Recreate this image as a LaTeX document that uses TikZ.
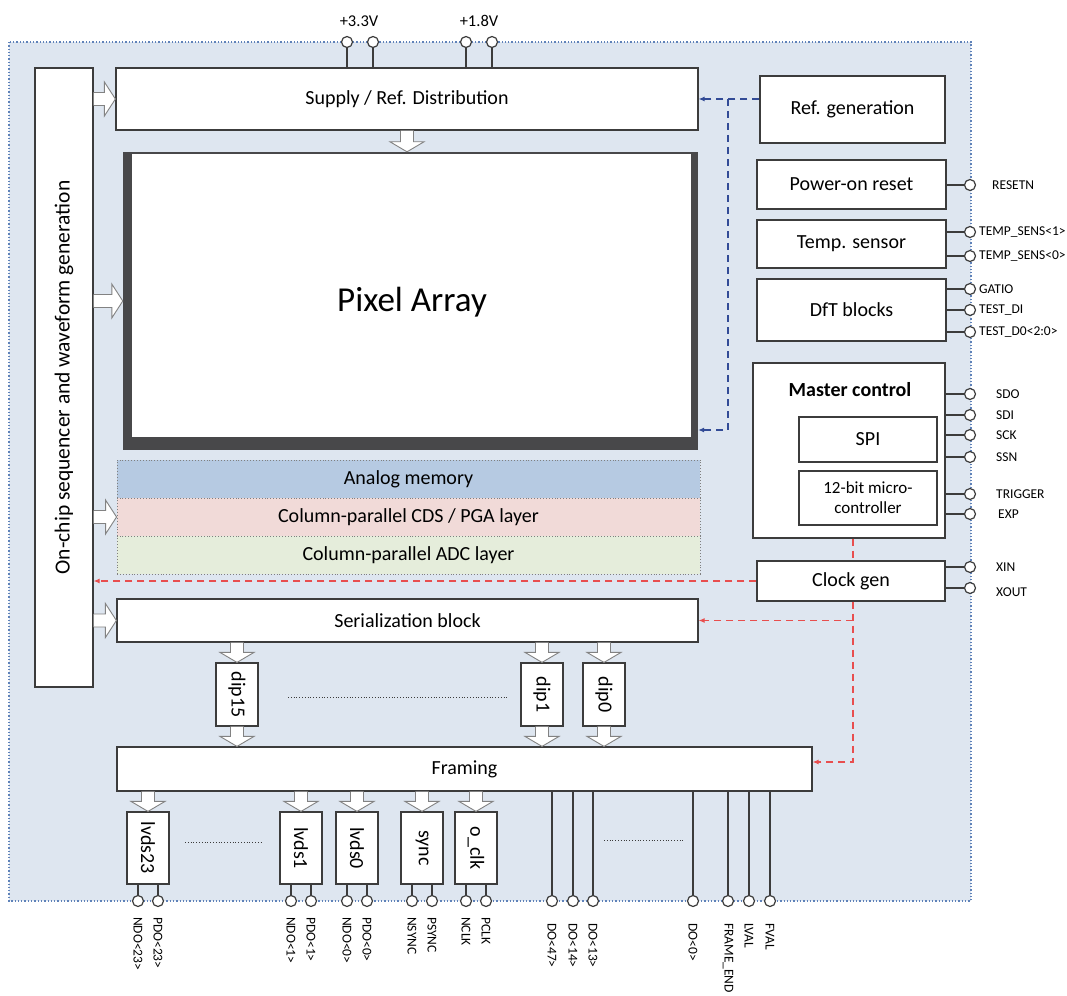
\documentclass[tikz,border=0pt]{standalone}
\usepackage{fontspec}
\setmainfont{Carlito}
\usetikzlibrary{arrows.meta,calc}
\definecolor{chipbg}{RGB}{222,230,240}
\definecolor{chipedge}{RGB}{95,130,185}
\definecolor{boxline}{RGB}{60,60,60}
\definecolor{framedark}{RGB}{72,72,74}
\definecolor{memblue}{RGB}{182,202,226}
\definecolor{cdspink}{RGB}{241,218,216}
\definecolor{adcgreen}{RGB}{229,237,219}
\definecolor{clkred}{RGB}{232,78,78}
\definecolor{refblue}{RGB}{50,75,150}
\definecolor{arrowgray}{RGB}{130,130,130}

% hollow block arrow to the right, from #1 to #2
\newcommand{\rblock}[2]{\filldraw[blockarrow] let \p1=#1, \p2=#2 in
  (\x1,\y1+6.5pt) -- (\x2-11pt,\y1+6.5pt) -- (\x2-11pt,\y1+17pt) -- (\x2,\y1)
  -- (\x2-11pt,\y1-17pt) -- (\x2-11pt,\y1-6.5pt) -- (\x1,\y1-6.5pt);}
% hollow block arrow downwards, from #1 to #2
\newcommand{\dblock}[2]{\filldraw[blockarrow] let \p1=#1, \p2=#2 in
  (\x1-6.5pt,\y1) -- (\x1-6.5pt,\y2+10pt) -- (\x1-17pt,\y2+10pt) -- (\x1,\y2)
  -- (\x1+17pt,\y2+10pt) -- (\x1+6.5pt,\y2+10pt) -- (\x1+6.5pt,\y1);}

\begin{document}
\begin{tikzpicture}[x=1pt, y=-1pt,
    box/.style={draw=boxline, fill=white, line width=1.2pt, inner sep=0pt,
      font=\fontsize{20}{23}\selectfont, align=center},
    layer/.style={draw=gray, dotted, line width=0.9pt, inner sep=0pt,
      minimum width=583, minimum height=38, font=\fontsize{20}{23}\selectfont},
    pad/.style={circle, draw=boxline, fill=white, line width=1.2pt,
      minimum size=11, inner sep=0pt},
    wire/.style={draw=boxline, line width=1.2pt},
    padlabel/.style={font=\fontsize{13.5}{15}\selectfont, inner sep=0pt},
    blockarrow/.style={fill=white, draw=arrowgray, line width=0.9pt},
    clkline/.style={draw=clkred, dashed, dash pattern=on 7pt off 5pt, line width=1.1pt},
    refline/.style={draw=refblue, dashed, dash pattern=on 7pt off 5pt, line width=1.1pt},
    gapline/.style={draw=boxline, dotted, line width=0.8pt}]
    \useasboundingbox (0,0) rectangle (1067,995);
    % chip outline
    \filldraw[fill=chipbg, draw=chipedge, dotted, line width=1.3pt] (9,42) rectangle (971,901);

    % left column and supply
    \node[box, rotate=90, minimum width=619, minimum height=58, font=\fontsize{21.5}{24}\selectfont] (seq) at (64,377.5) {On-chip sequencer and waveform generation};
    \node[box, minimum width=582, minimum height=62] (supply) at (407,99) {Supply / Ref. Distribution};

    % pixel array with its dark frame
    \node[fill=framedark, minimum width=575, minimum height=298, inner sep=0pt] (pixframe) at (410.5,301) {};
    \node[fill=white, minimum width=559, minimum height=283, inner sep=0pt] (pixarea) at (411.5,295.5) {};
    \node[font=\fontsize{35}{40}\selectfont] (pixtext) at (412,302) {Pixel Array};

    % column layers
    \node[layer, fill=memblue] (mem) at (408.5,479) {Analog memory};
    \node[layer, fill=cdspink] (cds) at (408.5,517) {Column-parallel CDS / PGA layer};
    \node[layer, fill=adcgreen] (adc) at (408.5,555) {Column-parallel ADC layer};

    \node[box, minimum width=581, minimum height=43] (ser) at (407.5,620.5) {Serialization block};

    % right column
    \node[box, minimum width=185, minimum height=67] (refgen) at (852.5,109.5) {Ref. generation};
    \node[box, minimum width=189, minimum height=49] (por) at (851.5,184.5) {Power-on reset};
    \node[box, minimum width=189, minimum height=48] (temp) at (851.5,244) {Temp. sensor};
    \node[box, minimum width=189, minimum height=62] (dft) at (851.5,310) {DfT blocks};
    \node[box, minimum width=192, minimum height=175] (master) at (849,450.5) {};
    \node[font=\fontsize{20}{23}\selectfont\bfseries] (mastertext) at (850,390) {Master control};
    \node[box, minimum width=138, minimum height=45] (spi) at (868,439.5) {SPI};
    \node[box, minimum width=138, minimum height=54, font=\fontsize{17}{20}\selectfont] (micro) at (868,498) {12-bit micro-\\controller};
    \node[box, minimum width=188, minimum height=40] (clock) at (851,581) {Clock gen};

    % dip blocks and framing
    \node[box, rotate=-90, minimum width=63, minimum height=42] (dip15) at (237,694.5) {dip15};
    \node[box, rotate=-90, minimum width=63, minimum height=42] (dip1) at (542,694.5) {dip1};
    \node[box, rotate=-90, minimum width=63, minimum height=42] (dip0) at (604,694.5) {dip0};
    \draw[gapline] (288,697) -- (508,697);
    \node[box, minimum width=695, minimum height=44] (framing) at (464.5,769) {Framing};

    % output blocks
    \node[box, rotate=-90, minimum width=72, minimum height=42] (lvds23) at (148,848) {lvds23};
    \node[box, rotate=-90, minimum width=72, minimum height=42] (lvds1) at (301,848) {lvds1};
    \node[box, rotate=-90, minimum width=72, minimum height=42] (lvds0) at (357,848) {lvds0};
    \node[box, rotate=-90, minimum width=72, minimum height=42] (sync) at (422,848) {sync};
    \node[box, rotate=-90, minimum width=72, minimum height=42] (oclk) at (476,848) {o\_clk};
    \draw[gapline] (185,842) -- (263,842);
    \draw[gapline] (604,840) -- (683,840);

    % block arrows
    \rblock{(seq.south |- supply.west)}{(supply.west)}
    \rblock{(seq.south |- pixframe.west)}{(pixframe.west)}
    \rblock{(seq.south |- cds.west)}{(cds.west)}
    \rblock{(seq.south |- ser.west)}{(ser.west)}
    \dblock{(supply.south)}{(pixframe.north)}
    \dblock{(ser.south -| dip15.center)}{(dip15.west)}
    \dblock{(ser.south -| dip1.center)}{(dip1.west)}
    \dblock{(ser.south -| dip0.center)}{(dip0.west)}
    \dblock{(dip15.east)}{(framing.north -| dip15.center)}
    \dblock{(dip1.east)}{(framing.north -| dip1.center)}
    \dblock{(dip0.east)}{(framing.north -| dip0.center)}
    \dblock{(framing.south -| lvds23.center)}{(lvds23.west)}
    \dblock{(framing.south -| lvds1.center)}{(lvds1.west)}
    \dblock{(framing.south -| lvds0.center)}{(lvds0.west)}
    \dblock{(framing.south -| sync.center)}{(sync.west)}
    \dblock{(framing.south -| oclk.center)}{(oclk.west)}

    % reference lines
    \coordinate (rtap) at (728,99);
    \coordinate (rbot) at (728,430);
    \draw[refline, -{Latex[length=6pt,width=5pt]}] (refgen.west |- supply.east) -- (supply.east);
    \draw[refline, -{Latex[length=6pt,width=5pt]}] (rtap) -- (rbot) -- (rbot -| pixframe.east);

    % clock lines
    \coordinate (ctap) at (853,762);
    \draw[clkline] (master.south -| ctap) -- (clock.north -| ctap);
    \draw[clkline, -{Latex[length=6pt,width=5pt]}] (clock.south -| ctap) -- (ctap) -- (ctap -| framing.east);
    \draw[clkline, -{Latex[length=6pt,width=5pt]}] (ser.east -| ctap) -- (ser.east);
    \draw[clkline, -{Latex[length=6pt,width=5pt]}] (clock.west) -- (clock.west -| seq.south);

    % supply pads
    \node[pad] (v33a) at (347,42) {};
    \node[pad] (v33b) at (373,42) {};
    \node[pad] (v18a) at (466,42) {};
    \node[pad] (v18b) at (492,42) {};
    \draw[wire] (v33a) -- (v33a |- supply.north);
    \draw[wire] (v33b) -- (v33b |- supply.north);
    \draw[wire] (v18a) -- (v18a |- supply.north);
    \draw[wire] (v18b) -- (v18b |- supply.north);
    \node[font=\fontsize{16.5}{18}\selectfont] (v33text) at (359,21) {+3.3V};
    \node[font=\fontsize{16.5}{18}\selectfont] (v18text) at (479,21) {+1.8V};

    % right pads
    \node[pad] (rst) at (970,185) {};
    \node[pad] (ts1) at (970,232) {};
    \node[pad] (ts0) at (970,256) {};
    \node[pad] (gatio) at (970,289) {};
    \node[pad] (tdi) at (970,310) {};
    \node[pad] (tdo) at (970,332) {};
    \node[pad] (sdo) at (970,394) {};
    \node[pad] (sdi) at (970,415) {};
    \node[pad] (sck) at (970,435) {};
    \node[pad] (ssn) at (970,457) {};
    \node[pad] (trig) at (970,494) {};
    \node[pad] (exp) at (970,514) {};
    \node[pad] (xin) at (970,567) {};
    \node[pad] (xout) at (970,588) {};
    \draw[wire] (rst -| por.east) -- (rst);
    \draw[wire] (ts1 -| temp.east) -- (ts1);
    \draw[wire] (ts0 -| temp.east) -- (ts0);
    \draw[wire] (gatio -| dft.east) -- (gatio);
    \draw[wire] (tdi -| dft.east) -- (tdi);
    \draw[wire] (tdo -| dft.east) -- (tdo);
    \draw[wire] (sdo -| master.east) -- (sdo);
    \draw[wire] (sdi -| master.east) -- (sdi);
    \draw[wire] (sck -| master.east) -- (sck);
    \draw[wire] (ssn -| master.east) -- (ssn);
    \draw[wire] (trig -| master.east) -- (trig);
    \draw[wire] (exp -| master.east) -- (exp);
    \draw[wire] (xin -| clock.east) -- (xin);
    \draw[wire] (xout -| clock.east) -- (xout);
    \node[padlabel, anchor=west] (rsttext) at (992,185) {RESETN};
    \node[padlabel, anchor=west] (ts1text) at (979,232) {TEMP\_SENS<1>};
    \node[padlabel, anchor=west] (ts0text) at (979,256) {TEMP\_SENS<0>};
    \node[padlabel, anchor=west] (gatiotext) at (979,289) {GATIO};
    \node[padlabel, anchor=west] (tditext) at (979,310) {TEST\_DI};
    \node[padlabel, anchor=west] (tdotext) at (979,332) {TEST\_D0<2:0>};
    \node[padlabel, anchor=west] (sdotext) at (996,394) {SDO};
    \node[padlabel, anchor=west] (sditext) at (996,415) {SDI};
    \node[padlabel, anchor=west] (scktext) at (996,435) {SCK};
    \node[padlabel, anchor=west] (ssntext) at (996,457) {SSN};
    \node[padlabel, anchor=west] (trigtext) at (996,494) {TRIGGER};
    \node[padlabel, anchor=west] (exptext) at (998,514) {EXP};
    \node[padlabel, anchor=west] (xintext) at (996,567) {XIN};
    \node[padlabel, anchor=west] (xouttext) at (996,592) {XOUT};

    % bottom pads of the lvds blocks
    \node[pad] (ndo23) at (138,901) {};
    \node[pad] (pdo23) at (158,901) {};
    \node[pad] (ndo1) at (291,901) {};
    \node[pad] (pdo1) at (311,901) {};
    \node[pad] (ndo0) at (347,901) {};
    \node[pad] (pdo0) at (367,901) {};
    \node[pad] (nsync) at (412,901) {};
    \node[pad] (psync) at (432,901) {};
    \node[pad] (nclk) at (466,901) {};
    \node[pad] (pclk) at (486,901) {};
    \draw[wire] (ndo23 |- lvds23.east) -- (ndo23);
    \draw[wire] (pdo23 |- lvds23.east) -- (pdo23);
    \draw[wire] (ndo1 |- lvds1.east) -- (ndo1);
    \draw[wire] (pdo1 |- lvds1.east) -- (pdo1);
    \draw[wire] (ndo0 |- lvds0.east) -- (ndo0);
    \draw[wire] (pdo0 |- lvds0.east) -- (pdo0);
    \draw[wire] (nsync |- sync.east) -- (nsync);
    \draw[wire] (psync |- sync.east) -- (psync);
    \draw[wire] (nclk |- oclk.east) -- (nclk);
    \draw[wire] (pclk |- oclk.east) -- (pclk);
    \node[padlabel, rotate=-90, anchor=west] (ndo23text) at (138,917) {NDO<23>};
    \node[padlabel, rotate=-90, anchor=west] (pdo23text) at (158,917) {PDO<23>};
    \node[padlabel, rotate=-90, anchor=west] (ndo1text) at (291,917) {NDO<1>};
    \node[padlabel, rotate=-90, anchor=west] (pdo1text) at (311,917) {PDO<1>};
    \node[padlabel, rotate=-90, anchor=west] (ndo0text) at (347,917) {NDO<0>};
    \node[padlabel, rotate=-90, anchor=west] (pdo0text) at (367,917) {PDO<0>};
    \node[padlabel, rotate=-90, anchor=west] (nsynctext) at (412,917) {NSYNC};
    \node[padlabel, rotate=-90, anchor=west] (psynctext) at (432,917) {PSYNC};
    \node[padlabel, rotate=-90, anchor=west] (nclktext) at (466,917) {NCLK};
    \node[padlabel, rotate=-90, anchor=west] (pclktext) at (486,917) {PCLK};

    % bottom pads of the parallel outputs
    \node[pad] (do47) at (552,901) {};
    \node[pad] (do14) at (573,901) {};
    \node[pad] (do13) at (593,901) {};
    \node[pad] (do0) at (693,901) {};
    \node[pad] (fend) at (728,901) {};
    \node[pad] (lval) at (749,901) {};
    \node[pad] (fval) at (770,901) {};
    \draw[wire] (do47 |- framing.south) -- (do47);
    \draw[wire] (do14 |- framing.south) -- (do14);
    \draw[wire] (do13 |- framing.south) -- (do13);
    \draw[wire] (do0 |- framing.south) -- (do0);
    \draw[wire] (fend |- framing.south) -- (fend);
    \draw[wire] (lval |- framing.south) -- (lval);
    \draw[wire] (fval |- framing.south) -- (fval);
    \node[padlabel, rotate=-90, anchor=west] (do47text) at (552,923) {DO<47>};
    \node[padlabel, rotate=-90, anchor=west] (do14text) at (573,923) {DO<14>};
    \node[padlabel, rotate=-90, anchor=west] (do13text) at (593,923) {DO<13>};
    \node[padlabel, rotate=-90, anchor=west] (do0text) at (693,923) {DO<0>};
    \node[padlabel, rotate=-90, anchor=west] (fendtext) at (728,923) {FRAME\_END};
    \node[padlabel, rotate=-90, anchor=west] (lvaltext) at (749,923) {LVAL};
    \node[padlabel, rotate=-90, anchor=west] (fvaltext) at (770,923) {FVAL};
\end{tikzpicture}
\end{document}
